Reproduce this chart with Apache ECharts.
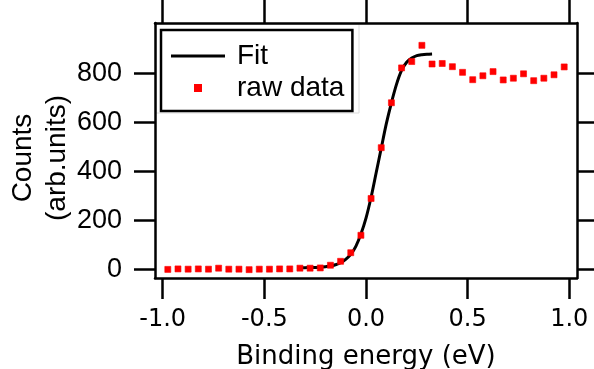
<!DOCTYPE html>
<html>
<head>
<meta charset="utf-8">
<script src="https://cdn.jsdelivr.net/npm/echarts@6/dist/echarts.min.js"></script>
<style>
html,body{margin:0;padding:0;background:#fff;}
#chart{width:594px;height:369px;}
</style>
</head>
<body>
<div id="chart"></div>
<script>
// Raw data (binding energy in eV, counts)
const rawX = [-0.975,-0.925,-0.875,-0.825,-0.775,-0.725,-0.675,-0.625,-0.575,-0.525,
              -0.475,-0.425,-0.375,-0.325,-0.275,-0.225,-0.175,-0.125,-0.075,-0.025,
               0.025, 0.075, 0.125, 0.175, 0.225, 0.275, 0.325, 0.375, 0.425, 0.475,
               0.525, 0.575, 0.625, 0.675, 0.725, 0.775, 0.825, 0.875, 0.925, 0.975];
const rawY = [1,3,2,3,2,6,2,2,0,2,
              2,3,3,6,6,7,18,34,69,140,
              290,497,680,822,848,914,838,840,827,804,
              774,790,807,773,780,798,770,780,794,826];
// Fit curve
const fitX = [-0.325,-0.3,-0.275,-0.25,-0.225,-0.2,-0.175,-0.15,-0.125,-0.1,-0.075,-0.05,-0.025,0,
              0.025,0.05,0.075,0.1,0.125,0.15,0.175,0.2,0.225,0.25,0.275,0.3,0.325];
const fitY = [8,8,9,9,10,12,15,20,28,42,62,95,145,210,
              295,395,495,595,680,755,812,845,862,872,876,878,879];
const xTicks = [-1.0,-0.5,0.0,0.5,1.0];
const yTicks = [0,200,400,600,800];

const pair = (xs, ys) => xs.map((x, i) => [x, ys[i]]);

const chart = echarts.init(document.getElementById('chart'), null, {renderer: 'canvas'});
const axisLine = {show: true, onZero: false, lineStyle: {color: '#000', width: 2.5}};
const tickStyle = {color: '#000', width: 2.5};
const xRange = {min: -1.038, max: 1.038};
const yRange = {min: -34, max: 1005};

chart.setOption({
  animation: false,
  backgroundColor: '#fff',
  grid: {left: 155, top: 23, width: 422, height: 255, containLabel: false, outerBoundsMode: 'none'},
  xAxis: [
    Object.assign({
      type: 'value', position: 'bottom',
      axisLine: axisLine,
      axisTick: {show: true, inside: false, length: 21, lineStyle: tickStyle, customValues: xTicks},
      axisLabel: {show: true, customValues: xTicks, margin: 30, color: '#000',
                  fontFamily: 'DejaVu Sans', fontSize: 24,
                  formatter: v => v.toFixed(1)},
      splitLine: {show: false},
      name: 'Binding energy (eV)', nameLocation: 'middle', nameGap: 66,
      nameTextStyle: {fontFamily: 'DejaVu Sans', fontSize: 26, color: '#000'}
    }, xRange),
    Object.assign({
      type: 'value', position: 'top',
      axisLine: axisLine,
      axisTick: {show: true, inside: false, length: 23, lineStyle: tickStyle, customValues: xTicks},
      axisLabel: {show: false},
      splitLine: {show: false}
    }, xRange)
  ],
  yAxis: [
    Object.assign({
      type: 'value', position: 'left',
      axisLine: axisLine,
      axisTick: {show: true, inside: false, length: 21, lineStyle: tickStyle, customValues: yTicks},
      axisLabel: {show: true, customValues: yTicks, margin: 33, color: '#000',
                  fontFamily: 'Liberation Sans', fontSize: 27},
      splitLine: {show: false}
    }, yRange),
    Object.assign({
      type: 'value', position: 'right',
      axisLine: axisLine,
      axisTick: {show: true, inside: false, length: 21, lineStyle: tickStyle, customValues: yTicks},
      axisLabel: {show: false},
      splitLine: {show: false}
    }, yRange)
  ],
  legend: {
    orient: 'vertical', left: 161, top: 30,
    data: [
      {name: 'Fit', icon: 'path://M0 0H54V2.8H0Z'},
      {name: 'raw data', icon: 'path://M0 0H1V1H0Z'}
    ],
    itemWidth: 54, itemHeight: 6, itemGap: 0,
    textStyle: {fontFamily: 'Liberation Sans', fontSize: 28, color: '#000', lineHeight: 32, padding: [0, 0, 0, 7]},
    borderColor: '#000', borderWidth: 2.5, padding: [10, 8, 7, 10],
    backgroundColor: '#fff'
  },
  graphic: [
    {type: 'rect', z: 0, silent: true, shape: {x: 156, y: 24, width: 203, height: 89},
     style: {fill: 'none', stroke: '#dcdcdc', lineWidth: 1}},
    {type: 'text', x: 40, y: 158, rotation: Math.PI / 2, silent: true,
     style: {text: 'Counts\n(arb.units)', fontFamily: 'Liberation Sans', fontSize: 28,
             lineHeight: 34, fill: '#000', align: 'center', verticalAlign: 'middle'}}
  ],
  series: [
    {name: 'Fit', type: 'line', data: pair(fitX, fitY), xAxisIndex: 0, yAxisIndex: 0,
     showSymbol: false, symbol: 'none', smooth: 0.3, color: '#000',
     lineStyle: {color: '#000', width: 3}, z: 2},
    {name: 'raw data', type: 'scatter', data: pair(rawX, rawY), xAxisIndex: 0, yAxisIndex: 0,
     symbol: 'rect', symbolSize: 6, color: '#ff0000',
     itemStyle: {color: '#ff0000', borderColor: '#ff0000', borderWidth: 0.6, opacity: 1}, z: 3}
  ]
});
</script>
</body>
</html>
